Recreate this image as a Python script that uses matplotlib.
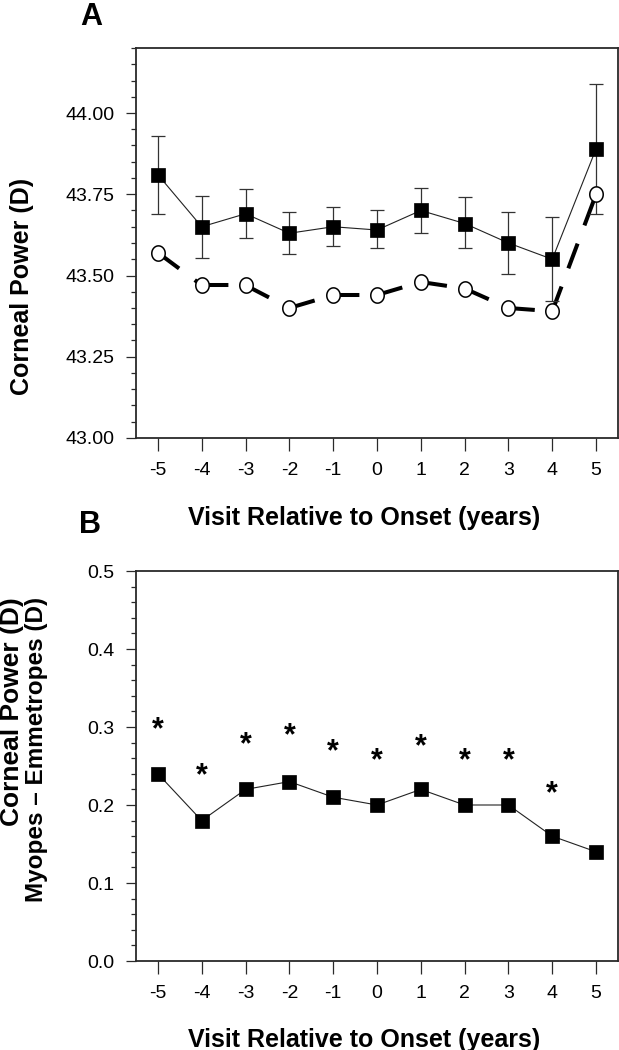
import matplotlib
matplotlib.use("Agg")
import matplotlib.pyplot as plt
import numpy as np
from matplotlib.path import Path
from matplotlib.ticker import MultipleLocator, FormatStrFormatter

plt.rcParams['font.family'] = ['Liberation Sans', 'DejaVu Sans']
plt.rcParams['lines.scale_dashes'] = False

# ---- data ----
visits = [-5, -4, -3, -2, -1, 0, 1, 2, 3, 4, 5]
myopes = [43.81, 43.65, 43.69, 43.63, 43.65, 43.64, 43.70, 43.66, 43.60, 43.55, 43.89]
myopes_hi = [43.93, 43.745, 43.765, 43.695, 43.71, 43.70, 43.77, 43.74, 43.695, 43.68, 44.09]
myopes_lo = [43.69, 43.555, 43.615, 43.565, 43.59, 43.585, 43.63, 43.585, 43.505, 43.42, 43.69]
emmetropes = [43.57, 43.47, 43.47, 43.40, 43.44, 43.44, 43.48, 43.46, 43.40, 43.39, 43.75]

diff = [0.24, 0.18, 0.22, 0.23, 0.21, 0.20, 0.22, 0.20, 0.20, 0.16, 0.14]
star_visits = [-5, -4, -3, -2, -1, 0, 1, 2, 3, 4]
star_y = [0.305, 0.246, 0.286, 0.297, 0.277, 0.266, 0.284, 0.266, 0.266, 0.223]

W, H = 619, 1050
fig = plt.figure(figsize=(W / 100, H / 100), dpi=100)

def fx(px):
    return px / W

def fy(py):
    return 1 - py / H

spine_col = '#2a2a2a'

def style_axes(ax):
    for s in ['left', 'bottom', 'right', 'top']:
        ax.spines[s].set_linewidth(1.3)
        ax.spines[s].set_color(spine_col)
    ax.tick_params(axis='y', which='major', direction='out', length=7.5, width=0.9,
                   color=spine_col, labelsize=14, pad=8)
    ax.tick_params(axis='y', which='minor', direction='out', length=3.8, width=0.9,
                   color=spine_col)
    ax.tick_params(axis='x', which='major', direction='out', length=9, width=0.9,
                   color=spine_col, labelsize=14, pad=8)
    ax.tick_params(right=False, top=False)
    ax.set_xlim(-5.5, 5.5)
    ax.set_xticks(visits)
    ax.set_xticklabels([str(v) for v in visits])

# ellipse marker (slightly taller than wide)
t = np.linspace(0, 2 * np.pi, 60)
ell = Path(np.column_stack([0.88 * np.cos(t), np.sin(t)]), closed=True)

# ---- Panel A ----
axA = fig.add_axes([fx(136), fy(438), fx(618) - fx(136), fy(48) - fy(438)])
style_axes(axA)
axA.set_ylim(43.0, 44.2)
axA.yaxis.set_minor_locator(MultipleLocator(0.05))
axA.set_yticks([43.0, 43.25, 43.5, 43.75, 44.0])
axA.yaxis.set_major_formatter(FormatStrFormatter('%.2f'))

# emmetropes dashed line: pattern restarts at each point
for i in range(len(visits) - 1):
    axA.plot(visits[i:i + 2], emmetropes[i:i + 2], color='black', lw=2.9,
             linestyle=(0, (19, 14)), dash_capstyle='butt', zorder=2)
axA.plot(visits, emmetropes, linestyle='none', marker=ell, markersize=11,
         markerfacecolor='white', markeredgecolor='black', markeredgewidth=1.1, zorder=4)

yerr = [np.array(myopes) - np.array(myopes_lo), np.array(myopes_hi) - np.array(myopes)]
axA.errorbar(visits, myopes, yerr=yerr, fmt='none', ecolor='#333333', elinewidth=0.9,
             capsize=5, capthick=0.9, zorder=3)
axA.plot(visits, myopes, color='#222222', lw=0.8, marker='s', markersize=9.5,
         markerfacecolor='black', markeredgecolor='black', markeredgewidth=0.5, zorder=5)

# ---- Panel B ----
axB = fig.add_axes([fx(136), fy(961), fx(618) - fx(136), fy(571) - fy(961)])
style_axes(axB)
axB.set_ylim(0.0, 0.5)
axB.yaxis.set_major_locator(MultipleLocator(0.1))
axB.yaxis.set_minor_locator(MultipleLocator(0.02))
axB.yaxis.set_major_formatter(FormatStrFormatter('%.1f'))
axB.plot(visits, diff, color='#222222', lw=0.8, marker='s', markersize=9.5,
         markerfacecolor='black', markeredgecolor='black', markeredgewidth=0.5, zorder=5)
for xv, yv in zip(star_visits, star_y):
    axB.annotate('*', xy=(xv, yv), xytext=(0, -11), textcoords='offset points',
                 ha='center', va='baseline', fontsize=22, fontweight='bold')

# ---- labels ----
lab = dict(fontsize=18, fontweight='bold')
fig.text(fx(364), fy(525), 'Visit Relative to Onset (years)', ha='center', va='baseline', **lab)
fig.text(fx(364), fy(1047), 'Visit Relative to Onset (years)', ha='center', va='baseline', **lab)
fig.text(fx(22), fy(286), 'Corneal Power (D)', rotation=90, ha='center', va='center', **lab)
fig.text(fx(12), fy(597), 'Corneal Power (D)', rotation=90, ha='center', va='top',
         fontsize=19, fontweight='bold')
fig.text(fx(37), fy(597), 'Myopes \u2013 Emmetropes (D)', rotation=90, ha='center', va='top',
         fontsize=17.5, fontweight='bold')
fig.text(fx(80), fy(25), 'A', ha='left', va='baseline', fontsize=22, fontweight='bold')
fig.text(fx(79), fy(533), 'B', ha='left', va='baseline', fontsize=22, fontweight='bold')

fig.savefig('out.png', dpi=100)
